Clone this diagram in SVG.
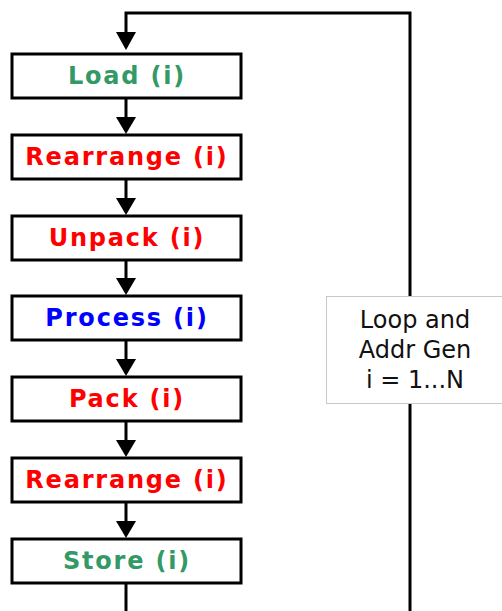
<svg xmlns="http://www.w3.org/2000/svg" width="502" height="611" viewBox="0 0 502 611">
<defs>
<style>
.box{fill:#fff;stroke:#000;stroke-width:3}
.lbl{font-family:"DejaVu Sans",Verdana,sans-serif;font-weight:bold;font-size:24px;letter-spacing:1.8px;text-anchor:middle}
.g{fill:#339966}.r{fill:#ff0000}.b{fill:#0000ff}
.ln{fill:none;stroke:#000;stroke-width:3}
.loopbox{fill:#fff;stroke:#c8c8c8;stroke-width:1}
.loop{font-family:"DejaVu Sans",Verdana,sans-serif;font-size:24px;fill:#111;text-anchor:middle}
</style>
</defs>
<g id="connectors">
<path class="ln" d="M410,611 V13 H126 V47" />
<path d="M116,32 L136,32 L126,50 Z"/>
<path class="ln" d="M126,98 V120"/><path d="M116,117 L136,117 L126,134 Z"/>
<path class="ln" d="M126,179 V200"/><path d="M116,198 L136,198 L126,215 Z"/>
<path class="ln" d="M126,260 V280"/><path d="M116,278 L136,278 L126,295 Z"/>
<path class="ln" d="M126,340 V360"/><path d="M116,359 L136,359 L126,376 Z"/>
<path class="ln" d="M126,421 V441"/><path d="M116,440 L136,440 L126,457 Z"/>
<path class="ln" d="M126,502 V522"/><path d="M116,521 L136,521 L126,538 Z"/>
<path class="ln" d="M126,583 V611"/>
</g>
<g id="load"><rect class="box" x="12" y="54" width="229" height="44"/><text class="lbl g" x="127" y="84">Load (i)</text></g>
<g id="rearrange1"><rect class="box" x="12" y="135" width="229" height="44"/><text class="lbl r" x="127" y="165">Rearrange (i)</text></g>
<g id="unpack"><rect class="box" x="12" y="216" width="229" height="44"/><text class="lbl r" x="127" y="246">Unpack (i)</text></g>
<g id="process"><rect class="box" x="12" y="296" width="229" height="44"/><text class="lbl b" x="127" y="326">Process (i)</text></g>
<g id="pack"><rect class="box" x="12" y="377" width="229" height="44"/><text class="lbl r" x="127" y="407">Pack (i)</text></g>
<g id="rearrange2"><rect class="box" x="12" y="458" width="229" height="44"/><text class="lbl r" x="127" y="488">Rearrange (i)</text></g>
<g id="store"><rect class="box" x="12" y="539" width="229" height="44"/><text class="lbl g" x="127" y="569">Store (i)</text></g>
<g id="loop"><rect class="loopbox" x="326.5" y="296.5" width="180" height="107"/>
<text class="loop" x="415" y="328">Loop and</text>
<text class="loop" x="415" y="358">Addr Gen</text>
<text class="loop" x="415" y="388">i = 1...N</text></g>
</svg>
